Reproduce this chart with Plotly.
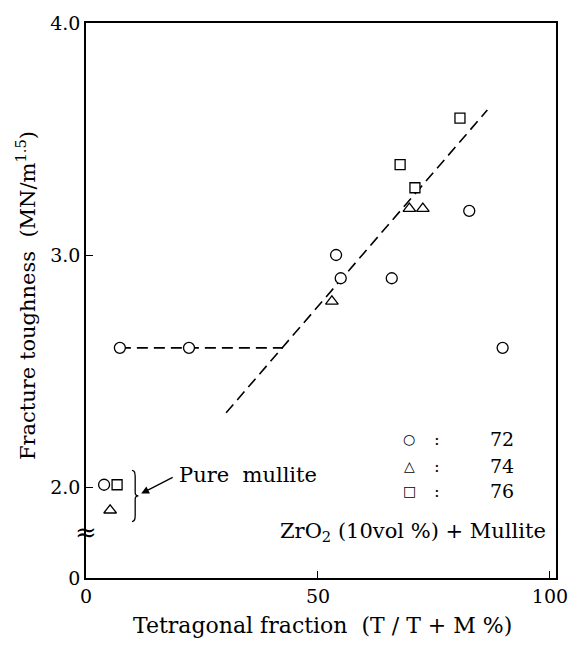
import plotly.graph_objects as go

# Fracture toughness of ZrO2(10vol%)+mullite vs tetragonal fraction
# series 72 (circles), 74 (triangles), 76 (squares); first point of each = pure mullite
c72_x = [3.9, 7.3, 22.2, 53.9, 54.9, 65.9, 82.6, 89.8]
c72_y = [2.01, 2.60, 2.60, 3.00, 2.90, 2.90, 3.19, 2.60]
t74_x = [5.2, 53.0, 69.7, 72.6]
t74_y = [1.90, 2.80, 3.20, 3.20]
s76_x = [6.7, 67.7, 70.9, 80.6]
s76_y = [2.01, 3.39, 3.29, 3.59]

# guide lines
plateau_x = [7.3, 42.4]
plateau_y = [2.60, 2.60]
trend_x = [30.2, 86.5]
trend_y = [2.32, 3.625]

# axis break: the lower y tick stands for 0
Y_BOTTOM = 1.608
ytick_vals = [Y_BOTTOM, 2.0, 3.0, 4.0]
ytick_text = ["0", "2.0", "3.0", "4.0"]
xtick_vals = [0, 50, 100]
xtick_text = ["0", "50", "100"]

SERIF = "DejaVu Serif"
W, H = 580, 645
L, R, T, B = 86, 24, 17, 67


def px(x):
    return (x - L) / (W - L - R)


def py(y):
    return (H - B - y) / (H - T - B)


def label(x, y, text, size, family=SERIF, **kw):
    d = dict(x=px(x), y=py(y), xref="paper", yref="paper", text=text,
             showarrow=False, xanchor="center", yanchor="middle",
             font=dict(family=family, size=size, color="black"))
    d.update(kw)
    return d


fig = go.Figure()

line_style = dict(color="black", width=1.6, dash="11px,6px")
fig.add_trace(go.Scatter(x=plateau_x, y=plateau_y, mode="lines", line=line_style))
fig.add_trace(go.Scatter(x=trend_x, y=trend_y, mode="lines", line=line_style))

mk_line = dict(color="black", width=1.3)
fig.add_trace(go.Scatter(x=c72_x, y=c72_y, mode="markers",
                         marker=dict(symbol="circle", size=11, color="white", line=mk_line)))
fig.add_trace(go.Scatter(x=t74_x, y=t74_y, mode="markers",
                         marker=dict(symbol="triangle-up", size=11, color="white", line=mk_line)))
fig.add_trace(go.Scatter(x=s76_x, y=s76_y, mode="markers",
                         marker=dict(symbol="square", size=10, color="white", line=mk_line)))

# brace grouping the pure mullite points
bx0, bx1, bx2 = 9.9, 10.6, 11.3
yt, ym, yb = 2.072, 1.962, 1.851
brace = (f"M {bx0},{yt} Q {bx1},{yt} {bx1},{yt-0.025} L {bx1},{ym+0.014} "
         f"Q {bx1},{ym} {bx2},{ym} Q {bx1},{ym} {bx1},{ym-0.014} "
         f"L {bx1},{yb+0.025} Q {bx1},{yb} {bx0},{yb}")
fig.add_shape(type="path", path=brace, xref="x", yref="y",
              line=dict(color="black", width=1.3))

annos = []
# arrow from the label to the brace
annos.append(dict(x=11.9, y=1.972, xref="x", yref="y", ax=19.0, ay=2.045,
                  axref="x", ayref="y", text="", showarrow=True,
                  arrowhead=2, arrowsize=1.2, arrowwidth=1.3, arrowcolor="black"))
annos.append(label(177, 474, "Pure  mullite", 21, xanchor="left"))

# key
for yy, sym, lab in [(437, "○", "72"), (465, "△", "74"), (490, "□", "76")]:
    annos.append(label(409, yy, sym, 14, family="DejaVu Sans"))
    annos.append(label(437, yy, ":", 17))
    annos.append(label(502, yy, lab, 19))
annos.append(label(548, 532, "ZrO<sub>2</sub> (10vol %) + Mullite", 21, xanchor="right"))

# axis break mark
annos.append(label(86, 531, "≈", 26))

# axis titles
annos.append(label(322, 626, "Tetragonal fraction  (T / T + M %)", 22))
annos.append(label(26, 293, "Fracture toughness  (MN/m<sup>1.5</sup>)", 21, textangle=-90))

axis_common = dict(showline=True, linecolor="black", linewidth=1.6, mirror=True,
                   showgrid=False, zeroline=False, ticks="inside", ticklen=7,
                   tickwidth=1.3, tickcolor="black",
                   tickfont=dict(family=SERIF, size=19, color="black"))

fig.update_layout(
    width=W, height=H,
    margin=dict(l=L, r=R, t=T, b=B),
    paper_bgcolor="white", plot_bgcolor="white",
    showlegend=False,
    annotations=annos,
    xaxis=dict(range=[0, 101.3], tickvals=xtick_vals, ticktext=xtick_text, **axis_common),
    yaxis=dict(range=[Y_BOTTOM, 4.0], tickvals=ytick_vals, ticktext=ytick_text, **axis_common),
)

fig.write_html("out.html")
